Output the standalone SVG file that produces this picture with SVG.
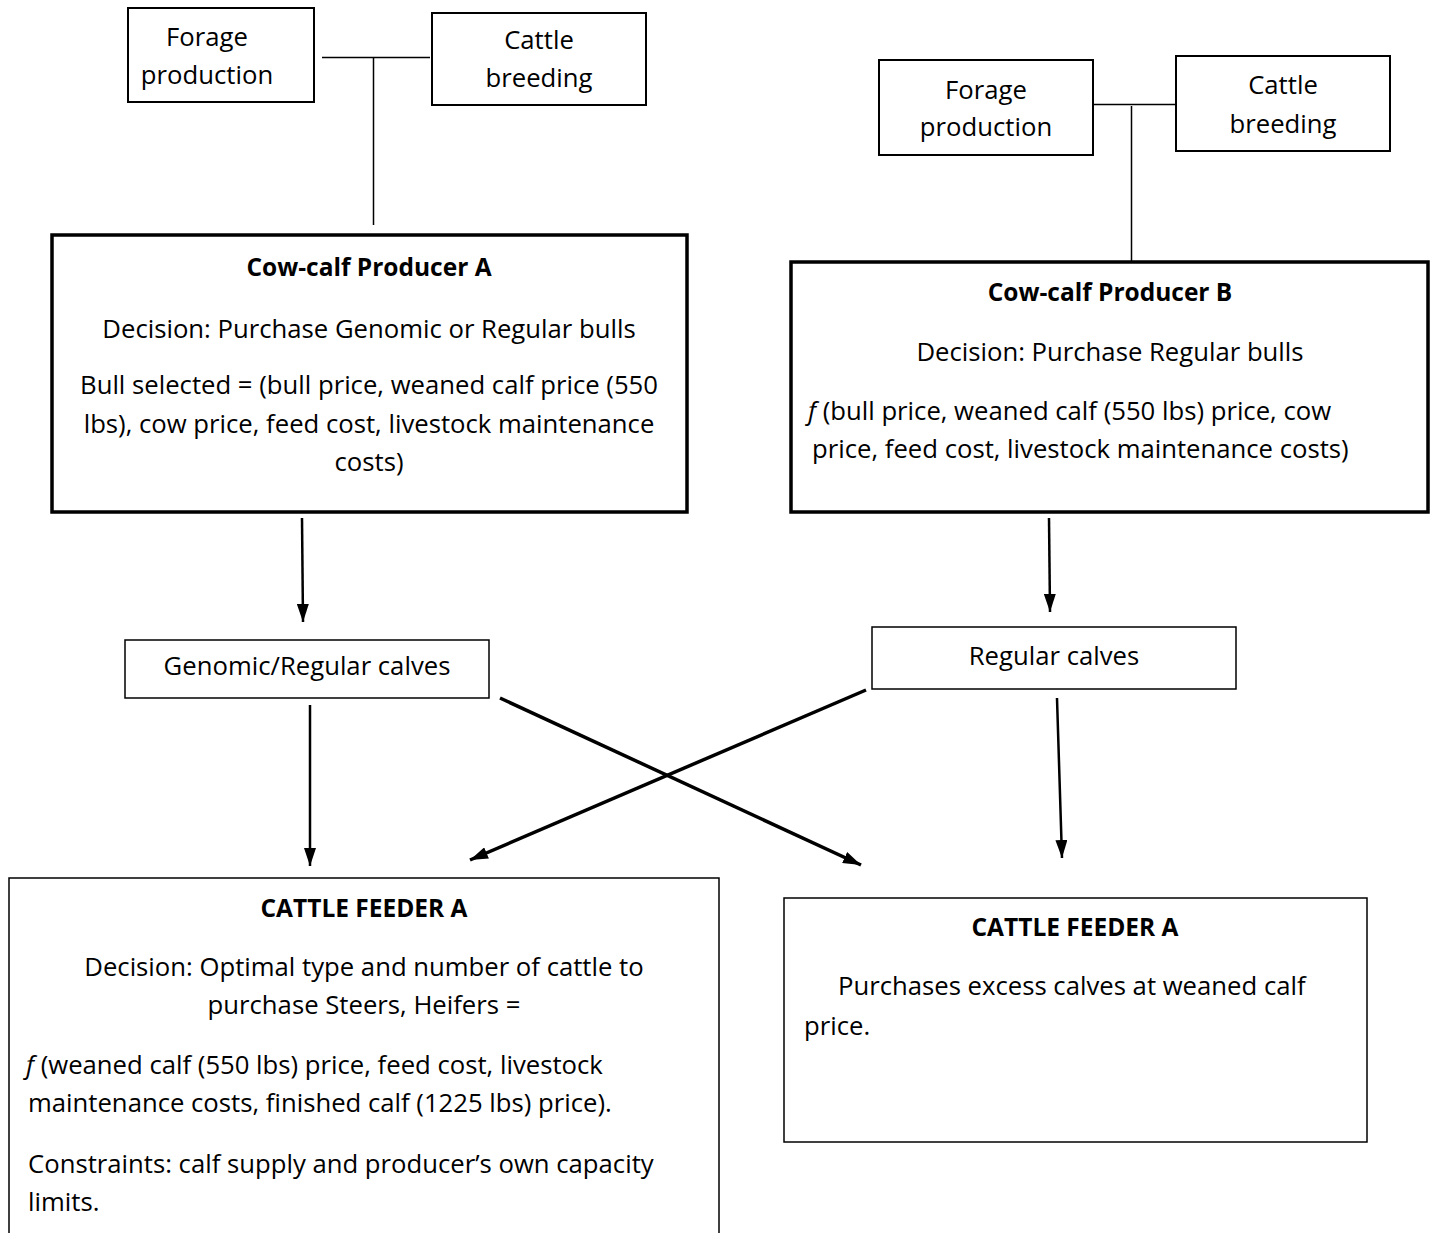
<svg xmlns="http://www.w3.org/2000/svg" width="1437" height="1233" viewBox="0 0 1437 1233">
<style>
text{font-family:"Open Sans","Noto Sans",sans-serif;font-size:25.7px;fill:#000}
.c{text-anchor:middle}
.b{font-weight:bold;font-size:24.5px}
.thin{fill:#fff;stroke:#000;stroke-width:1.5}
.mid{fill:#fff;stroke:#000;stroke-width:2}
.thick{fill:#fff;stroke:#000;stroke-width:3.5}
.ln{stroke:#000;stroke-width:1.5;fill:none}
.ar{stroke:#000;stroke-width:2.5;fill:none;marker-end:url(#ah)}
.ar2{stroke:#000;stroke-width:3.5;fill:none;marker-end:url(#ah)}
</style>
<defs>
<marker id="ah" markerUnits="userSpaceOnUse" markerWidth="18" markerHeight="12" viewBox="0 0 18 12" refX="18" refY="6" orient="auto">
<path d="M0,0 L18,6 L0,12 Z" fill="#000"/>
</marker>
</defs>
<rect width="1437" height="1233" fill="#fff"/>
<g id="connectors">
<path class="ln" d="M322,57.5 H430 M373.5,58 V225"/>
<path class="ln" d="M1093,104.5 H1176 M1131.5,106 V262"/>
<path class="ar" d="M302,518 L303,622"/>
<path class="ar" d="M1049,518 L1050,612"/>
<path class="ar" d="M310,705 L310,866"/>
<path class="ar" d="M1057,698 L1062,858"/>
<path class="ar2" d="M500,698 L861,865"/>
<path class="ar2" d="M866,690 L470,860"/>
</g>
<g id="forageA"><rect class="mid" x="128" y="8" width="186" height="94"/><text class="c" x="207" y="46">Forage</text><text class="c" x="207" y="84">production</text></g>
<g id="cattleA"><rect class="mid" x="432" y="13" width="214" height="92"/><text class="c" x="539" y="49">Cattle</text><text class="c" x="539" y="87">breeding</text></g>
<g id="forageB"><rect class="mid" x="879" y="60" width="214" height="95"/><text class="c" x="986" y="99">Forage</text><text class="c" x="986" y="136">production</text></g>
<g id="cattleB"><rect class="mid" x="1176" y="56" width="214" height="95"/><text class="c" x="1283" y="94">Cattle</text><text class="c" x="1283" y="133">breeding</text></g>
<g id="producerA"><rect class="thick" x="52" y="235" width="635" height="277"/>
<text class="c b" x="369" y="276">Cow-calf Producer A</text>
<text class="c" x="369" y="338">Decision: Purchase Genomic or Regular bulls</text>
<text class="c" x="369" y="394">Bull selected = (bull price, weaned calf price (550</text>
<text class="c" x="369" y="433">lbs), cow price, feed cost, livestock maintenance</text>
<text class="c" x="369" y="471">costs)</text></g>
<g id="producerB"><rect class="thick" x="791" y="262" width="637" height="250"/>
<text class="c b" x="1110" y="301">Cow-calf Producer B</text>
<text class="c" x="1110" y="361">Decision: Purchase Regular bulls</text>
<text x="808" y="420"><tspan font-style="italic">f</tspan> (bull price, weaned calf (550 lbs) price, cow</text>
<text x="812" y="458">price, feed cost, livestock maintenance costs)</text></g>
<g id="calvesA"><rect class="thin" x="125" y="640" width="364" height="58"/><text class="c" x="307" y="675">Genomic/Regular calves</text></g>
<g id="calvesB"><rect class="thin" x="872" y="627" width="364" height="62"/><text class="c" x="1054" y="665">Regular calves</text></g>
<g id="feederA"><rect class="thin" x="9" y="878" width="710" height="380"/>
<text class="c b" x="364" y="917">CATTLE FEEDER A</text>
<text class="c" x="364" y="976">Decision: Optimal type and number of cattle to</text>
<text class="c" x="364" y="1014">purchase Steers, Heifers =</text>
<text x="26" y="1074"><tspan font-style="italic">f</tspan> (weaned calf (550 lbs) price, feed cost, livestock</text>
<text x="28" y="1112">maintenance costs, finished calf (1225 lbs) price).</text>
<text x="28" y="1173">Constraints: calf supply and producer’s own capacity</text>
<text x="28" y="1211">limits.</text></g>
<g id="feederB"><rect class="thin" x="784" y="898" width="583" height="244"/>
<text class="c b" x="1075" y="936">CATTLE FEEDER A</text>
<text x="838" y="995">Purchases excess calves at weaned calf</text>
<text x="804" y="1035">price.</text></g>
</svg>
